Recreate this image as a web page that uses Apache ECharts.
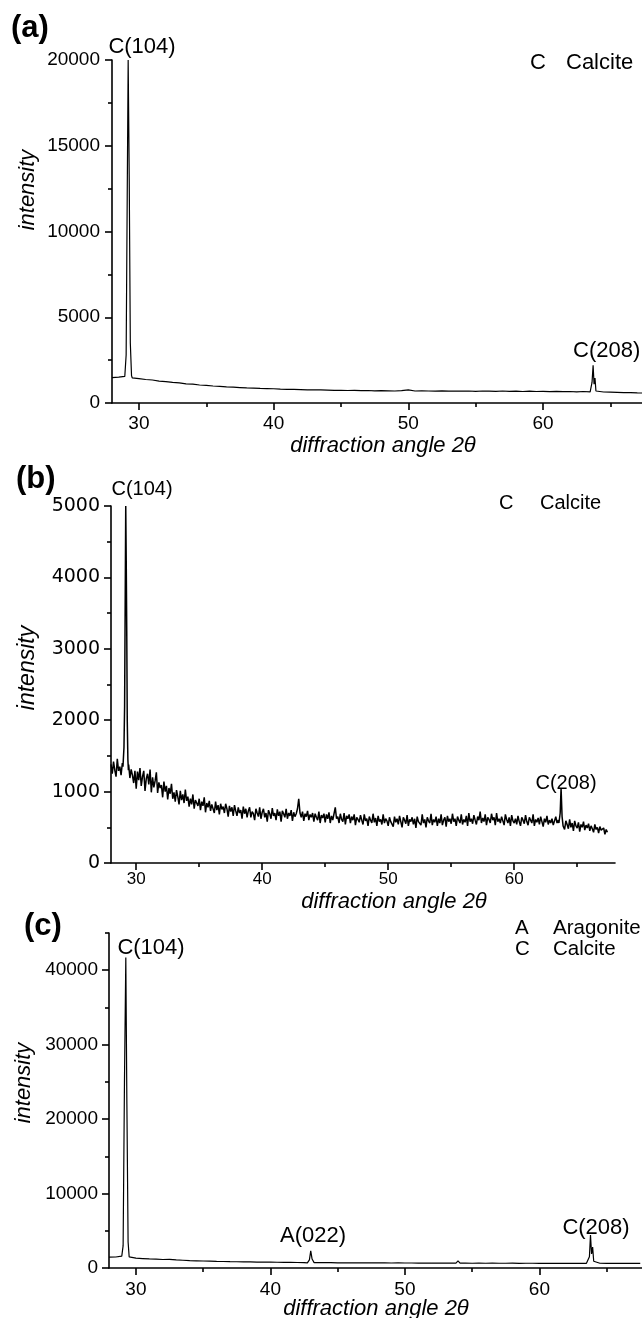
<!DOCTYPE html>
<html>
<head>
<meta charset="utf-8">
<script src="https://cdn.jsdelivr.net/npm/echarts@6/dist/echarts.min.js"></script>
<style>
html,body{margin:0;padding:0;background:#fff;}
#chart{width:642px;height:1318px;}
</style>
</head>
<body>
<div id="chart"></div>
<script>
// ---------- DATA ----------
// scan start angle and step (2θ, degrees) of each measured pattern
const scanA = {start: 28.0, step: 0.5};
const scanB = {start: 28.0, step: 0.1};
const scanC = {start: 28.0, step: 0.5};

// (a) background intensities, one per scan step
const intensityA = [
  1480,1510,1550,1470,1420,1370,1340,1280,1250,1200,
  1170,1120,1100,1050,1030,990,970,940,920,900,
  880,870,850,840,830,810,800,790,780,770,
  760,760,750,740,740,730,740,720,730,710,
  720,710,700,720,760,700,710,700,690,710,
  690,700,690,700,680,700,690,680,700,680,
  690,670,690,670,680,660,680,660,670,650,
  670,650,650,640,630,620,600,610,590,580
];
// (a) peaks: [angle, intensity]
const peakA104 = [[28.95,1550],[29.05,2800],[29.13,12000],[29.2,20000],[29.28,13000],[29.36,3500],[29.45,1600]];
const peakA208 = [[63.55,680],[63.64,1200],[63.72,2200],[63.79,1100],[63.86,1450],[63.93,700]];

// (b) background intensities, one per scan step (one row = 1 degree)
const intensityB = [
  1380,1250,1420,1300,1210,1460,1290,1350,1230,1400,
  1300,1300,1300,1300,1380,1190,1310,1230,1120,1290,
  1040,1280,1160,1330,1080,1210,1290,1010,1180,1250,
  1100,1310,990,1200,1060,1150,1270,980,1130,1050,
  1090,920,1140,1000,1080,890,1050,970,1110,900,
  990,860,1020,930,820,1010,880,960,840,1030,
  870,930,790,900,820,960,760,880,840,800,
  900,740,860,800,920,710,840,780,870,730,
  820,760,700,860,740,810,680,830,750,790,
  700,830,760,650,800,720,780,660,810,730,
  660,780,700,740,620,790,690,760,640,730,
  780,640,720,690,600,760,700,650,780,620,
  710,760,640,700,580,740,690,620,770,660,
  700,600,750,660,720,580,730,690,640,760,
  620,700,660,740,590,710,650,690,760,900,
  700,640,720,590,690,650,730,600,680,640,
  700,580,690,640,600,720,560,670,630,690,
  570,680,620,710,560,660,600,690,780,620,
  650,560,690,610,580,700,540,660,620,680,
  560,650,600,680,530,640,610,570,670,600,
  540,680,590,620,520,650,600,560,690,570,
  630,520,660,580,610,540,680,560,620,590,
  520,640,580,600,510,650,570,620,540,660,
  580,500,640,600,550,670,520,610,580,640,
  540,620,490,650,580,600,530,680,560,610,
  500,640,590,560,690,530,610,570,650,520,
  620,560,680,530,600,640,510,660,580,620,
  550,690,580,620,520,650,600,560,680,540,
  610,570,660,520,700,580,620,550,670,600,
  540,650,600,720,560,630,580,680,530,640,
  610,560,690,600,640,530,700,580,620,560,
  650,590,530,680,610,560,640,520,670,590,
  560,620,540,660,580,520,640,600,550,670,
  580,530,640,600,560,680,520,610,570,630,
  540,650,580,510,620,570,660,540,600,560,
  620,530,590,650,560,600,560,560,560,520,
  470,590,540,480,610,500,560,450,590,520,
  490,570,440,540,500,580,460,530,490,550,
  450,520,480,430,540,470,500,420,510,460,
  440,490,400,470,430
];
const peakB104 = [[28.95,1350],[29.03,1620],[29.08,2200],[29.17,5000],[29.21,4200],[29.25,3250],[29.29,2000],[29.34,1450],[29.38,1300]];
const peakB208 = [[63.55,560],[63.65,700],[63.72,1050],[63.8,650],[63.88,520]];

// (c) background intensities, one per scan step
const intensityC = [
  1450,1480,1500,1400,1320,1270,1220,1180,1140,1150,
  1080,1040,1000,970,940,920,890,870,850,840,
  820,810,800,790,780,770,760,750,740,730,
  720,720,710,710,700,700,690,690,690,680,
  680,690,670,680,670,670,660,670,660,660,
  650,660,650,650,640,650,640,650,640,640,
  650,630,640,640,630,640,630,640,630,630,
  640,630,640,640,630,620,630,620,610,620
];
const peakC104 = [[28.95,1600],[29.05,3000],[29.15,25000],[29.25,41700],[29.33,22000],[29.42,3500],[29.5,1500]];
const peakC022 = [[42.75,700],[42.9,1100],[43.0,2300],[43.1,1200],[43.25,720]];
const peakC54  = [[53.8,660],[53.95,950],[54.1,660]];
const peakC208 = [[63.6,680],[63.72,1500],[63.8,4430],[63.88,1900],[63.96,2800],[64.04,900],[64.14,660]];

// axis ticks
const xMajor = [30,40,50,60];
const xMinor = [35,45,55,65];
const yMajorC = [0,10000,20000,30000,40000];
const yMinorC = [5000,15000,25000,35000,45000];

// ---------- BUILD ----------
function build(scan, vals, peaks) {
  const pts = [];
  vals.forEach(function (v, i) {
    const a = +(scan.start + i * scan.step).toFixed(3);
    const inPeak = peaks.some(function (p) { return a >= p[0][0] && a <= p[p.length - 1][0]; });
    if (!inPeak) pts.push([a, v]);
  });
  peaks.forEach(function (p) { p.forEach(function (q) { pts.push(q); }); });
  pts.sort(function (u, v) { return u[0] - v[0]; });
  return pts;
}
const dataA = build(scanA, intensityA, [peakA104, peakA208]);
const dataB = build(scanB, intensityB, [peakB104, peakB208]);
const dataC = build(scanC, intensityC, [peakC104, peakC022, peakC54, peakC208]);

const SANS = "'Liberation Sans', Arial, sans-serif";
const lineCol = '#000';
const axW = 1.6;
const plain = function (v) { return String(v); };

function xMain(grid, max, fontSize, margin) {
  return {
    type: 'value', gridIndex: grid, min: 28, max: max, position: 'bottom',
    axisLine: {onZero: false, lineStyle: {color: lineCol, width: axW}},
    axisTick: {customValues: xMajor, length: 7, lineStyle: {color: lineCol, width: axW}},
    axisLabel: {customValues: xMajor, color: '#000', fontSize: fontSize, fontFamily: SANS, margin: margin, formatter: plain},
    splitLine: {show: false}
  };
}
function xMinorAxis(grid, max) {
  return {
    type: 'value', gridIndex: grid, min: 28, max: max, position: 'bottom',
    axisLine: {show: false},
    axisTick: {customValues: xMinor, length: 4, lineStyle: {color: lineCol, width: axW}},
    axisLabel: {show: false},
    splitLine: {show: false}
  };
}
function txt(x, y, s, font, align, rot) {
  const o = {type: 'text', x: x, y: y, style: {text: s, font: font, fill: '#000', textAlign: align || 'left', textVerticalAlign: 'middle'}};
  if (rot) o.rotation = rot;
  return o;
}
const F22 = "22px 'Liberation Sans', Arial, sans-serif";
const F20 = "20px 'Liberation Sans', Arial, sans-serif";
const F205 = "20.5px 'Liberation Sans', Arial, sans-serif";
const FB = "bold 31px 'Liberation Sans', Arial, sans-serif";
const FI = "italic 22px 'Liberation Sans', Arial, sans-serif";

const option = {
  animation: false,
  backgroundColor: '#fff',
  grid: [
    {left: 112, top: 60, width: 530, height: 343},
    {left: 111, top: 506, width: 504, height: 357},
    {left: 109, top: 933, width: 533, height: 335}
  ],
  xAxis: [
    xMain(0, 67.35, 19, 11),
    xMinorAxis(0, 67.35),
    xMain(1, 68, 17, 8),
    xMinorAxis(1, 68),
    xMain(2, 67.63, 19, 12),
    xMinorAxis(2, 67.63)
  ],
  yAxis: [
    {
      type: 'value', gridIndex: 0, min: 0, max: 20000, interval: 5000, position: 'left',
      axisLine: {show: true, onZero: false, lineStyle: {color: lineCol, width: axW}},
      axisTick: {show: true, length: 7, lineStyle: {color: lineCol, width: axW}},
      minorTick: {show: true, splitNumber: 2, length: 4, lineStyle: {color: lineCol, width: axW}},
      axisLabel: {color: '#000', fontSize: 19, fontFamily: SANS, margin: 12, formatter: plain},
      splitLine: {show: false}, minorSplitLine: {show: false}
    },
    {
      type: 'value', gridIndex: 1, min: 0, max: 5000, interval: 1000, position: 'left',
      axisLine: {show: true, onZero: false, lineStyle: {color: lineCol, width: axW}},
      axisTick: {show: true, length: 7, lineStyle: {color: lineCol, width: axW}},
      minorTick: {show: true, splitNumber: 2, length: 4, lineStyle: {color: lineCol, width: axW}},
      axisLabel: {color: '#000', fontSize: 19, fontFamily: "'DejaVu Sans', Verdana, sans-serif", margin: 11, formatter: plain},
      splitLine: {show: false}, minorSplitLine: {show: false}
    },
    {
      type: 'value', gridIndex: 2, min: 0, max: 45000, interval: 5000, position: 'left',
      axisLine: {show: true, onZero: false, lineStyle: {color: lineCol, width: axW}},
      axisTick: {show: true, customValues: yMajorC, length: 7, lineStyle: {color: lineCol, width: axW}},
      axisLabel: {customValues: yMajorC, color: '#000', fontSize: 19, fontFamily: SANS, margin: 11, formatter: plain},
      splitLine: {show: false}
    },
    {
      type: 'value', gridIndex: 2, min: 0, max: 45000, interval: 5000, position: 'left',
      axisLine: {show: false, onZero: false},
      axisTick: {show: true, customValues: yMinorC, length: 4, lineStyle: {color: lineCol, width: axW}},
      axisLabel: {show: false},
      splitLine: {show: false}
    }
  ],
  series: [
    {type: 'line', xAxisIndex: 0, yAxisIndex: 0, data: dataA, showSymbol: false, symbol: 'none',
      lineStyle: {color: lineCol, width: 1.2}},
    {type: 'line', xAxisIndex: 2, yAxisIndex: 1, data: dataB, showSymbol: false, symbol: 'none',
      lineStyle: {color: lineCol, width: 1.5}},
    {type: 'line', xAxisIndex: 4, yAxisIndex: 2, data: dataC, showSymbol: false, symbol: 'none',
      lineStyle: {color: lineCol, width: 1.2}}
  ],
  graphic: [
    // panel (a)
    txt(11, 28, '(a)', FB),
    txt(142, 47, 'C(104)', F22, 'center'),
    txt(530, 63, 'C', F22),
    txt(566, 63, 'Calcite', F22),
    txt(573, 351, 'C(208)', F22),
    txt(383, 446, 'diffraction angle 2\u03B8', FI, 'center'),
    txt(28, 190, 'intensity', FI, 'center', Math.PI / 2),
    // panel (b)
    txt(16, 479, '(b)', FB),
    txt(142, 489, 'C(104)', F20, 'center'),
    txt(499, 503, 'C', F20),
    txt(540, 503, 'Calcite', F20),
    txt(566, 783, 'C(208)', F20, 'center'),
    txt(394, 902, 'diffraction angle 2\u03B8', FI, 'center'),
    txt(28, 668, 'intensity', "italic 23px 'Liberation Sans', Arial, sans-serif", 'center', Math.PI / 2),
    // panel (c)
    txt(24, 926, '(c)', FB),
    txt(151, 948, 'C(104)', F22, 'center'),
    txt(515, 928, 'A', F205),
    txt(553, 928, 'Aragonite', F205),
    txt(515, 949, 'C', F205),
    txt(553, 949, 'Calcite', F205),
    txt(313, 1236, 'A(022)', F22, 'center'),
    txt(596, 1228, 'C(208)', F22, 'center'),
    txt(376, 1309, 'diffraction angle 2\u03B8', FI, 'center'),
    txt(24, 1083, 'intensity', FI, 'center', Math.PI / 2)
  ]
};

const chart = echarts.init(document.getElementById('chart'), null, {renderer: 'canvas', width: 642, height: 1318});
chart.setOption(option);
</script>
</body>
</html>
